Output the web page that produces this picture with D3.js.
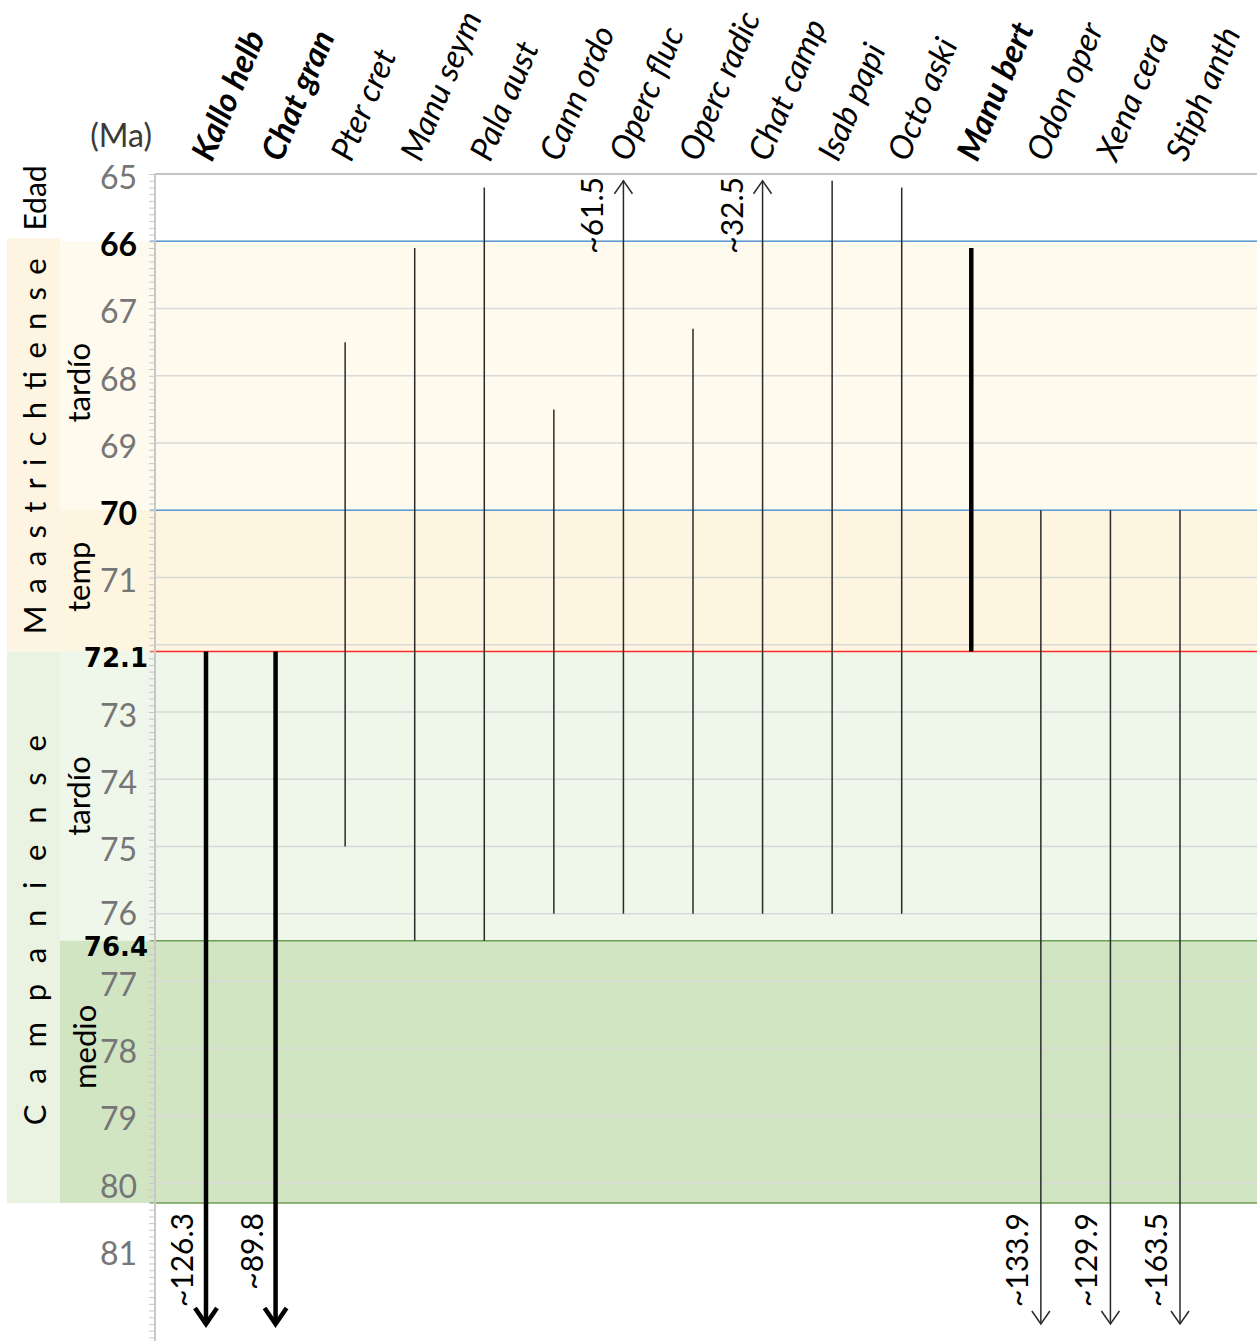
<!DOCTYPE html>
<html>
<head>
<meta charset="utf-8">
<script src="https://cdn.jsdelivr.net/npm/d3@7/dist/d3.min.js"></script>
<style>
  html, body { margin: 0; padding: 0; background: #fff; }
  svg { display: block; font-family: Lato, "Open Sans", sans-serif; }
</style>
</head>
<body>
<svg id="chart" width="1257" height="1341"></svg>
<script>
// Taxa ranges across the Campanian–Maastrichtian (ages in Ma)
const species = ["Kallo helb", "Chat gran", "Pter cret", "Manu seym", "Pala aust",
  "Cann ordo", "Operc fluc", "Operc radic", "Chat camp", "Isab papi",
  "Octo aski", "Manu bert", "Odon oper", "Xena cera", "Stiph anth"];
const highlighted = [true, true, false, false, false, false, false, false, false, false,
  false, true, false, false, false];
// youngest occurrence (top of range)
const topAge = [72.1, 72.1, 67.5, 66.1, 65.2, 68.5, 61.5, 67.3, 32.5, 65.0, 65.2, 66.1, 70.0, 70.0, 70.0];
// oldest occurrence (base of range)
const baseAge = [126.3, 89.8, 75.0, 76.4, 76.4, 76.0, 76.0, 76.0, 76.0, 76.0, 76.0, 72.1, 133.9, 129.9, 163.5];

// Chronostratigraphic units
const stages = [
  { name: "Maastrichtiense", from: 66.0, to: 72.1 },
  { name: "Campaniense", from: 72.1, to: 80.3 }
];
const substages = [
  { name: "tardío", from: 66.0, to: 70.0 },
  { name: "temp", from: 70.0, to: 72.1 },
  { name: "tardío", from: 72.1, to: 76.4 },
  { name: "medio", from: 76.4, to: 80.3 }
];
const boundaries = [66.0, 70.0, 72.1, 76.4, 80.3];
const minorTickAges = d3.range(650, 824).map(v => v / 10);
const gridAges = d3.range(66, 81);
const grayTickAges = [65, 67, 68, 69, 71, 73, 74, 75, 76, 77, 78, 79, 80, 81];
const boldTickAges = [66, 70];
const boldDecimalTickAges = [72.1, 76.4];

// Layout
const W = 1257, H = 1341;
const axisX = 155, plotRight = W;
const visibleTop = 65.1, visibleBase = 82.1;

const svg = d3.select("#chart");
const y = d3.scaleLinear().domain([65, 82.5]).range([174, 174 + 17.5 * 67.25]);
const x = d3.scalePoint().domain(species).range([206, 1180]);

const stageFill = ["#fdf5e2", "#eaf3e2"];
const subFill = ["#fefaee", "#fdf5e0", "#eff6ea", "#d1e5c3"];
const lineColor = ["#5b9bd5", "#5b9bd5", "#ff2a2a", "#6f9d52", "#6f9d52"];

// Stage column
svg.append("g").selectAll("rect").data(stages).join("rect")
  .attr("x", 7).attr("width", 53)
  .attr("y", (d, i) => y(d.from) - (i === 0 ? 3 : 0))
  .attr("height", (d, i) => y(d.to) - y(d.from) + (i === 0 ? 3 : 0))
  .attr("fill", (d, i) => stageFill[i]);

// Substage column and plot bands
svg.append("g").selectAll("rect").data(substages).join("rect")
  .attr("x", 60).attr("width", plotRight - 60)
  .attr("y", d => y(d.from))
  .attr("height", d => y(d.to) - y(d.from))
  .attr("fill", (d, i) => subFill[i]);

// Gridlines
svg.append("g").selectAll("line").data(gridAges).join("line")
  .attr("x1", axisX).attr("x2", plotRight)
  .attr("y1", d => y(d)).attr("y2", d => y(d))
  .attr("stroke", "#d9d9d9").attr("stroke-width", 1.3);

// Top frame line
svg.append("line")
  .attr("x1", axisX).attr("x2", plotRight)
  .attr("y1", y(65)).attr("y2", y(65))
  .attr("stroke", "#c4c4c4").attr("stroke-width", 2);

// Boundary lines
svg.append("g").selectAll("line").data(boundaries).join("line")
  .attr("x1", 150).attr("x2", plotRight)
  .attr("y1", d => y(d)).attr("y2", d => y(d))
  .attr("stroke", (d, i) => lineColor[i]).attr("stroke-width", 1.5);

// Left axis with minor ticks every 0.1 Ma
const axisMinor = d3.axisLeft(y).tickValues(minorTickAges).tickSize(6).tickFormat("");
const gMinor = svg.append("g").attr("transform", `translate(${axisX},0)`).call(axisMinor);
gMinor.select(".domain").attr("stroke", "#c8c8c8").attr("stroke-width", 2)
  .attr("d", `M0,${y(65)}V${H}`);
gMinor.selectAll(".tick line").attr("stroke", "#c8c8c8").attr("stroke-width", 1);

// Tick labels
function labelAxis(values, fmt, cls) {
  const a = d3.axisLeft(y).tickValues(values).tickSize(0).tickPadding(0).tickFormat(fmt);
  const g = svg.append("g").attr("class", cls).call(a);
  g.select(".domain").remove();
  return g;
}
const gGray = labelAxis(grayTickAges, d3.format("d"), "ticks-gray")
  .attr("transform", "translate(137,4)");
gGray.selectAll("text").attr("fill", "#767676").attr("font-size", 32)
  .attr("font-family", "Lato, sans-serif")
  .attr("dy", d => d === 76 ? "0.2em" : "0.32em");

const gBold = labelAxis(boldTickAges, d3.format("d"), "ticks-bold")
  .attr("transform", "translate(137,4)");
gBold.selectAll("text").attr("fill", "#000").attr("font-size", 32)
  .attr("font-weight", 700).attr("font-family", "Lato, sans-serif");

const gDec = labelAxis(boldDecimalTickAges, d3.format(".1f"), "ticks-decimal")
  .attr("transform", "translate(148,7)");
gDec.selectAll("text").attr("fill", "#000").attr("font-size", 26)
  .attr("font-weight", 700).attr("font-family", "'DejaVu Sans', sans-serif");

// Unit label
svg.append("text").attr("x", 152).attr("y", 147).attr("text-anchor", "end")
  .attr("font-size", 32).attr("fill", "#3a3a3a").text("(Ma)");

// Left column titles
svg.append("text").attr("transform", `translate(46,${198}) rotate(-90)`)
  .attr("text-anchor", "middle").attr("font-size", 30).attr("fill", "#000").text("Edad");

svg.append("g").selectAll("text").data(stages).join("text")
  .attr("transform", (d, i) => `translate(46,${(y(d.from) + y(d.to)) / 2 + (i === 0 ? 0 : 3)}) rotate(-90)`)
  .attr("text-anchor", "middle")
  .attr("font-size", 31).attr("fill", "#000")
  .attr("textLength", (d, i) => i === 0 ? 376 : 390)
  .attr("lengthAdjust", "spacing")
  .text(d => d.name);

svg.append("g").selectAll("text").data(substages).join("text")
  .attr("transform", (d, i) => {
    const cy = (y(d.from) + y(d.to)) / 2 + [7, -4, 0, -25][i];
    const bx = [90, 90, 90, 96][i];
    return `translate(${bx},${cy}) rotate(-90)`;
  })
  .attr("text-anchor", "middle")
  .attr("font-size", 31).attr("fill", "#000")
  .text(d => d.name);

// Species labels
svg.append("g").selectAll("text").data(species).join("text")
  .attr("transform", d => `translate(${x(d) + 6},163) rotate(-67)`)
  .attr("font-size", 33).attr("font-style", "italic")
  .attr("font-weight", (d, i) => highlighted[i] ? 700 : 400)
  .attr("fill", "#000")
  .text(d => d);

// Range bars
const ranges = species.map((s, i) => ({
  name: s, top: topAge[i], base: baseAge[i], bold: highlighted[i]
}));
const gRanges = svg.append("g");
gRanges.selectAll("line").data(ranges).join("line")
  .attr("x1", d => x(d.name)).attr("x2", d => x(d.name))
  .attr("y1", d => y(Math.max(d.top, visibleTop)))
  .attr("y2", d => y(Math.min(d.base, visibleBase)))
  .attr("stroke", d => d.bold ? "#000" : "#2a2a2a")
  .attr("stroke-width", d => d.bold ? 4.5 : 1.5);

// Arrowheads for ranges running beyond the axis
const arrowPath = (cx, tipY, dir, bold) => {
  const w = bold ? 11 : 9, h = bold ? 16 : 13;
  return `M${cx - w},${tipY - dir * h}L${cx},${tipY}L${cx + w},${tipY - dir * h}`;
};
const upRanges = ranges.filter(d => d.top < 65);
const downRanges = ranges.filter(d => d.base > visibleBase);

gRanges.selectAll("path.up").data(upRanges).join("path")
  .attr("class", "up")
  .attr("d", d => arrowPath(x(d.name), y(visibleTop), -1, d.bold))
  .attr("fill", "none").attr("stroke", "#2a2a2a").attr("stroke-width", 1.5);

gRanges.selectAll("path.down").data(downRanges).join("path")
  .attr("class", "down")
  .attr("d", d => arrowPath(x(d.name), y(visibleBase), 1, d.bold))
  .attr("fill", "none")
  .attr("stroke", d => d.bold ? "#000" : "#2a2a2a")
  .attr("stroke-width", d => d.bold ? 4.5 : 1.5);

// Off-scale ages
const fmtAge = d3.format(".1f");
svg.append("g").selectAll("text").data(upRanges).join("text")
  .attr("transform", d => `translate(${x(d.name) - 20},${y(65) + 3}) rotate(-90)`)
  .attr("text-anchor", "end").attr("font-size", 30).attr("fill", "#000")
  .text(d => "~" + fmtAge(d.top));

svg.append("g").selectAll("text").data(downRanges).join("text")
  .attr("transform", d => `translate(${x(d.name) - 13},1213) rotate(-90)`)
  .attr("text-anchor", "end").attr("font-size", 30).attr("fill", "#000")
  .text(d => "~" + fmtAge(d.base));
</script>
</body>
</html>
